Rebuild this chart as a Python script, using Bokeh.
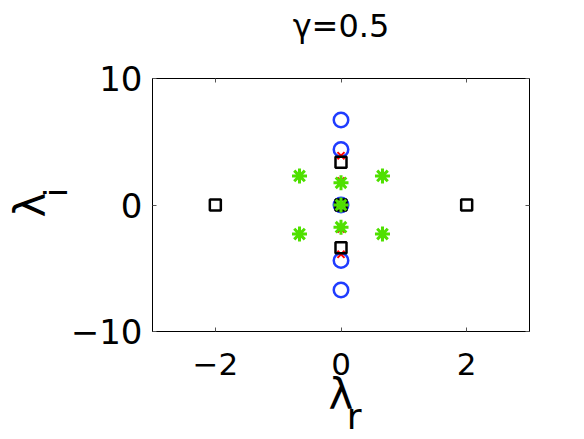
import math
from bokeh.plotting import figure
from bokeh.models import Range1d, FixedTicker, LinearAxis
from bokeh.embed import file_html
from bokeh.resources import INLINE

# ---- data ----
circ_x = [0, 0, 0, 0, 0]
circ_y = [6.72, 4.38, 0.0, -4.38, -6.72]

cross_x = [0, 0, 0, 0, 0]
cross_y = [3.9, 1.9, 0.0, -1.9, -3.9]

sq_x = [-2, 0, 0, 0, 2]
sq_y = [0.0, 3.37, 0.0, -3.37, 0.0]

ast_x = [-0.66, 0.66, 0, 0, 0, -0.66, 0.66]
ast_y = [2.3, 2.3, 1.75, 0.0, -1.75, -2.3, -2.3]

x_ticks = [-2, 0, 2]
y_ticks = [-10, 0, 10]
title_text = "γ=0.5"
x_label, x_sub = "λ", "r"
y_label, y_sub = "λ", "i"
x_sub_pos = 0.21
y_sub_pos = 0.99

FONT = "DejaVu Sans"
TICK = "#555555"

p = figure(width=584, height=439, output_backend="svg", toolbar_location=None,
           title=None,
           x_range=Range1d(-3, 3), y_range=Range1d(-10, 10),
           min_border_left=152, min_border_right=55,
           min_border_top=78, min_border_bottom=108)
p.background_fill_color = "white"
p.border_fill_color = "white"
p.grid.visible = False
p.outline_line_color = "black"
p.outline_line_width = 1

xa = p.xaxis[0]
xa.ticker = FixedTicker(ticks=x_ticks)
xa.major_label_text_font = FONT
xa.major_label_text_font_size = "31px"
xa.major_label_standoff = 21
xa.axis_label = x_label
xa.axis_label_text_font = FONT
xa.axis_label_text_font_size = "42px"
xa.axis_label_text_font_style = "normal"
xa.axis_label_standoff = -8

ya = p.yaxis[0]
ya.ticker = FixedTicker(ticks=y_ticks)
ya.major_label_text_font = FONT
ya.major_label_text_font_size = "34px"
ya.major_label_standoff = 10

for ax in (xa, ya):
    ax.major_tick_in = 4
    ax.major_tick_out = 0
    ax.minor_tick_line_color = None
    ax.major_tick_line_color = TICK
    ax.axis_line_color = "black"
    ax.major_label_text_color = "black"
    ax.axis_label_text_color = "black"

# second left axis: carries the y label "λ" and its subscript "i"
ya2 = LinearAxis(ticker=FixedTicker(ticks=[y_sub_pos]),
                 major_label_overrides={y_sub_pos: y_sub},
                 major_label_orientation="vertical",
                 major_label_text_font=FONT, major_label_text_font_size="32px",
                 major_label_text_color="black", major_label_standoff=-8,
                 major_tick_in=0, major_tick_out=0, major_tick_line_color=None,
                 minor_tick_line_color=None, axis_line_color=None,
                 axis_label=y_label, axis_label_text_font=FONT,
                 axis_label_text_font_size="42px", axis_label_text_font_style="normal",
                 axis_label_text_color="black", axis_label_standoff=-20)
p.add_layout(ya2, "left")

# second bottom axis: carries the subscript "r" of the x label
xa2 = LinearAxis(ticker=FixedTicker(ticks=[x_sub_pos]),
                 major_label_overrides={x_sub_pos: x_sub},
                 major_label_text_font=FONT, major_label_text_font_size="36px",
                 major_label_text_color="black", major_label_standoff=-26,
                 major_tick_in=0, major_tick_out=0, major_tick_line_color=None,
                 minor_tick_line_color=None, axis_line_color=None)
p.add_layout(xa2, "below")

# top axis: tick marks + the title as its label
top = LinearAxis(ticker=FixedTicker(ticks=x_ticks), major_label_text_font_size="1px",
                 major_label_text_color=None, major_label_standoff=0,
                 major_tick_in=4, major_tick_out=0, minor_tick_line_color=None,
                 major_tick_line_color=TICK, axis_line_color=None,
                 axis_label=title_text, axis_label_text_font=FONT,
                 axis_label_text_font_size="32px", axis_label_text_font_style="normal",
                 axis_label_text_color="black", axis_label_standoff=34)
right = LinearAxis(ticker=FixedTicker(ticks=y_ticks), major_label_text_font_size="1px",
                   major_label_text_color=None, major_label_standoff=0,
                   major_tick_in=4, major_tick_out=0, minor_tick_line_color=None,
                   major_tick_line_color=TICK, axis_line_color=None)
p.add_layout(top, "above")
p.add_layout(right, "right")

# markers
p.scatter(circ_x, circ_y, marker="circle", size=14.5, fill_color=None,
          line_color="#1f3cff", line_width=2.5)
p.scatter(cross_x, cross_y, marker="x", size=10, line_color="red", line_width=2)
p.scatter(sq_x, sq_y, marker="square", size=11, fill_color=None,
          line_color="black", line_width=2.5)
p.scatter(ast_x, ast_y, marker="asterisk", size=15, line_color="#4fe000",
          line_width=3)

open("out.html", "w").write(file_html(p, INLINE))
